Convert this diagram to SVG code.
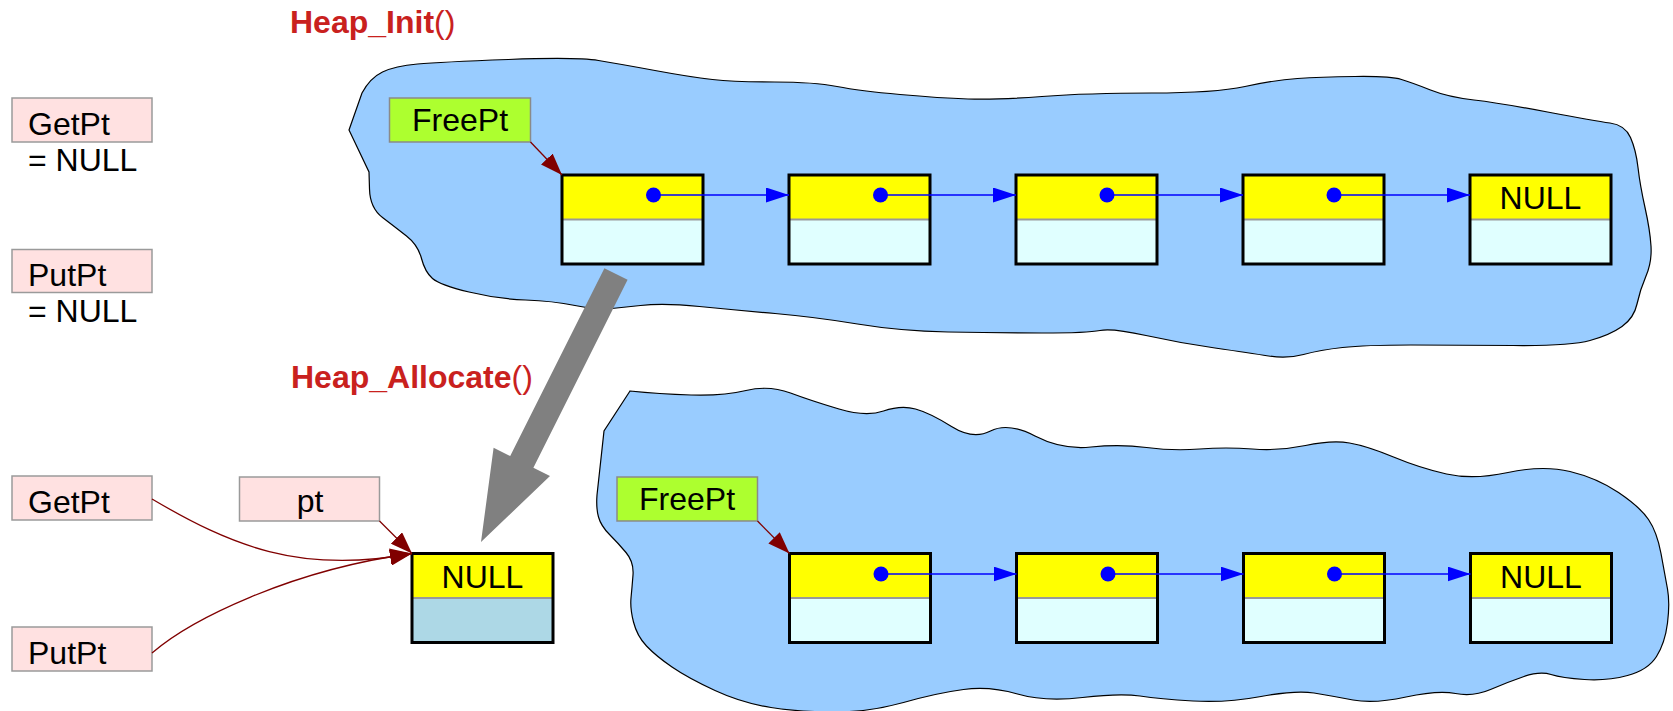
<svg xmlns="http://www.w3.org/2000/svg" width="1673" height="711" viewBox="0 0 1673 711">
<style>
text{font-family:"Liberation Sans",Arial,sans-serif;font-size:32px;fill:#000}
.title{font-size:32px;fill:#C9211E}
.title .b{font-weight:bold}
.c{text-anchor:middle}
.blob{fill:#99CCFF;stroke:#000;stroke-width:1.2}
.lbl{fill:#FFE1E1;stroke:#9a9a9a;stroke-width:1.5}
.fp{fill:#ADFF2F;stroke:#8a8a8a;stroke-width:1.5}
.top{fill:#FFFF00}
.bot{fill:#E0FFFF}
.bot2{fill:#ADD8E6}
.div{stroke:#999;stroke-width:2}
.frame{fill:none;stroke:#000;stroke-width:3}
.dot{fill:#0000FF}
.blue{stroke:#0000FF;stroke-width:1.5;fill:none;marker-end:url(#ab)}
.red{stroke:#800000;stroke-width:1.3;fill:none;marker-end:url(#ar)}
</style>
<defs>
<marker id="ab" markerUnits="userSpaceOnUse" markerWidth="23" markerHeight="15" refX="23" refY="7.5" orient="auto"><path d="M0,0 L23,7.5 L0,15 Z" fill="#0000FF"/></marker>
<marker id="ar" markerUnits="userSpaceOnUse" markerWidth="22" markerHeight="16" refX="22" refY="8" orient="auto"><path d="M0,0 L22,8 L0,16 Z" fill="#800000"/></marker>
</defs>

<g id="heap1">
<path class="blob" d="M 349,130 L 362,93 Q 370,78 382.5,72 Q 395,66 417.5,64 Q 440,62 508.5,59.5 Q 577,57 598.5,60.5 Q 620,64 655,70.5 Q 690,77 712.5,79.5 Q 735,82 774.5,82 Q 814,82 837,86.5 Q 860,91 900,94.5 Q 940,98 968,99 Q 996,100 1042,96.5 Q 1088,93 1151.5,93 Q 1215,93 1245,86.5 Q 1275,80 1297.5,78.5 Q 1320,77 1355,76.5 Q 1390,76 1401.5,79.5 Q 1413,83 1430.5,90 Q 1448,97 1474,100 Q 1500,103 1547.5,112 Q 1595,121 1610,123 Q 1625,125 1630.5,137.5 Q 1636,150 1638,167.5 Q 1640,185 1645,207.5 Q 1650,230 1651,246 Q 1652,262 1646,276 Q 1640,290 1637,304 Q 1634,318 1622,326.5 Q 1610,335 1590,340.5 Q 1570,346 1513.5,345.5 Q 1457,345 1411,345 Q 1365,345 1342.5,347.5 Q 1320,350 1303.5,354.5 Q 1287,359 1268.5,356 Q 1250,353 1215,348 Q 1180,343 1146,335.5 Q 1112,328 1100,330.5 Q 1088,333 1042,333 Q 996,333 948,332 Q 900,331 857.5,324 Q 815,317 775,313.5 Q 735,310 699.5,306.5 Q 664,303 640.5,305.5 Q 617,308 607,309 Q 597,310 575,305.5 Q 553,301 525.5,300 Q 498,299 469,292 Q 440,285 432.5,278.5 Q 425,272 421.5,258.5 Q 418,245 406.5,236 Q 395,227 382.5,217.5 Q 370,208 369.5,189 L 369,172 L 349,130 Z"/>
</g>
<g id="heap2">
<path class="blob" d="M 630,391 L 604,431 L 597,495 Q 596,508 598.5,517 Q 601,526 609.5,534.5 Q 618,543 626,552.5 Q 634,562 633,575 Q 632,588 631,598 Q 630,608 633.5,622 Q 637,636 646.5,646 Q 656,656 672,667 Q 688,678 715,690.5 Q 742,703 771,707.5 Q 800,712 835,712 Q 870,712 903.5,702.5 Q 937,693 963.5,689.5 Q 990,686 1017.5,694 Q 1045,702 1082.5,697.5 Q 1120,693 1140,696 Q 1160,699 1193,701 Q 1226,703 1261,696.5 Q 1296,690 1314,693 Q 1332,696 1353,700 Q 1374,704 1406,697 Q 1438,690 1455.5,693.5 Q 1473,697 1490.5,689.5 Q 1508,682 1524,676.5 Q 1540,671 1551,674.5 Q 1562,678 1584.5,679.5 Q 1607,681 1627.5,675.5 Q 1648,670 1656.5,656.5 Q 1665,643 1667.5,623 Q 1670,603 1667.5,589 Q 1665,575 1661,553.5 Q 1657,532 1648.5,519.5 Q 1640,507 1618.5,492.5 Q 1597,478 1570,471.5 Q 1543,465 1508,472.5 Q 1473,480 1446.5,474 Q 1420,468 1393.5,457 Q 1367,446 1349.5,443 Q 1332,440 1305.5,445.5 Q 1279,451 1252.5,449 Q 1226,447 1199.5,449 Q 1173,451 1146.5,447.5 Q 1120,444 1091,447 Q 1062,450 1035,436 Q 1008,422 990.5,431 Q 973,440 951.5,426.5 Q 930,413 915.5,409 Q 901,405 883.5,411 Q 866,417 839,409 Q 812,401 790.5,393 Q 769,385 746,390.5 Q 723,396 691,395 Q 659,394 630,391 Z"/>
</g>

<g id="title-init"><text class="title" x="290" y="33"><tspan class="b">Heap_Init</tspan>()</text></g>
<g id="title-alloc"><text class="title" x="291" y="388"><tspan class="b">Heap_Allocate</tspan>()</text></g>

<g id="getpt-top"><rect class="lbl" x="12" y="98" width="140" height="44"/><text x="28" y="135">GetPt</text><text x="28" y="171">= NULL</text></g>
<g id="putpt-top"><rect class="lbl" x="12" y="249.5" width="140" height="43"/><text x="28" y="286">PutPt</text><text x="28" y="321.5">= NULL</text></g>
<g id="getpt-bot"><rect class="lbl" x="12" y="476" width="140" height="44"/><text x="28" y="513">GetPt</text></g>
<g id="putpt-bot"><rect class="lbl" x="12" y="627" width="140" height="44"/><text x="28" y="664">PutPt</text></g>
<g id="pt"><rect class="lbl" x="239.5" y="477" width="140" height="44"/><text class="c" x="310" y="512">pt</text></g>

<g id="freept-top"><rect class="fp" x="389.5" y="98" width="141" height="44"/><text class="c" x="460" y="130.5">FreePt</text></g>
<g id="freept-bot"><rect class="fp" x="617" y="477" width="140.5" height="44"/><text class="c" x="687" y="510">FreePt</text></g>

<g id="t1"><rect class="top" x="562" y="175" width="141" height="44.5"/><rect class="bot" x="562" y="219.5" width="141" height="44.5"/><line class="div" x1="562" y1="219.5" x2="703" y2="219.5"/><rect class="frame" x="562" y="175" width="141" height="89"/><circle class="dot" cx="653.5" cy="195" r="7.5"/></g>
<g id="t2"><rect class="top" x="789" y="175" width="141" height="44.5"/><rect class="bot" x="789" y="219.5" width="141" height="44.5"/><line class="div" x1="789" y1="219.5" x2="930" y2="219.5"/><rect class="frame" x="789" y="175" width="141" height="89"/><circle class="dot" cx="880.5" cy="195" r="7.5"/></g>
<g id="t3"><rect class="top" x="1016" y="175" width="141" height="44.5"/><rect class="bot" x="1016" y="219.5" width="141" height="44.5"/><line class="div" x1="1016" y1="219.5" x2="1157" y2="219.5"/><rect class="frame" x="1016" y="175" width="141" height="89"/><circle class="dot" cx="1107" cy="195" r="7.5"/></g>
<g id="t4"><rect class="top" x="1243" y="175" width="141" height="44.5"/><rect class="bot" x="1243" y="219.5" width="141" height="44.5"/><line class="div" x1="1243" y1="219.5" x2="1384" y2="219.5"/><rect class="frame" x="1243" y="175" width="141" height="89"/><circle class="dot" cx="1334" cy="195" r="7.5"/></g>
<g id="t5"><rect class="top" x="1470" y="175" width="141" height="44.5"/><rect class="bot" x="1470" y="219.5" width="141" height="44.5"/><line class="div" x1="1470" y1="219.5" x2="1611" y2="219.5"/><rect class="frame" x="1470" y="175" width="141" height="89"/><text class="c" x="1540.5" y="209">NULL</text></g>

<g id="alloc"><rect class="top" x="412" y="553.5" width="141" height="44.5"/><rect class="bot2" x="412" y="598" width="141" height="44.5"/><line class="div" x1="412" y1="598" x2="553" y2="598"/><rect class="frame" x="412" y="553.5" width="141" height="89"/><text class="c" x="482.5" y="587.5">NULL</text></g>

<g id="b1"><rect class="top" x="789.5" y="553.5" width="141" height="44.5"/><rect class="bot" x="789.5" y="598" width="141" height="44.5"/><line class="div" x1="789.5" y1="598" x2="930.5" y2="598"/><rect class="frame" x="789.5" y="553.5" width="141" height="89"/><circle class="dot" cx="881" cy="574" r="7.5"/></g>
<g id="b2"><rect class="top" x="1016.5" y="553.5" width="141" height="44.5"/><rect class="bot" x="1016.5" y="598" width="141" height="44.5"/><line class="div" x1="1016.5" y1="598" x2="1157.5" y2="598"/><rect class="frame" x="1016.5" y="553.5" width="141" height="89"/><circle class="dot" cx="1108" cy="574" r="7.5"/></g>
<g id="b3"><rect class="top" x="1243.5" y="553.5" width="141" height="44.5"/><rect class="bot" x="1243.5" y="598" width="141" height="44.5"/><line class="div" x1="1243.5" y1="598" x2="1384.5" y2="598"/><rect class="frame" x="1243.5" y="553.5" width="141" height="89"/><circle class="dot" cx="1334.5" cy="574" r="7.5"/></g>
<g id="b4"><rect class="top" x="1470.5" y="553.5" width="141" height="44.5"/><rect class="bot" x="1470.5" y="598" width="141" height="44.5"/><line class="div" x1="1470.5" y1="598" x2="1611.5" y2="598"/><rect class="frame" x="1470.5" y="553.5" width="141" height="89"/><text class="c" x="1541" y="587.5">NULL</text></g>

<g id="connectors">
<path class="blue" d="M653.5,195 H789"/>
<path class="blue" d="M880.5,195 H1016"/>
<path class="blue" d="M1107,195 H1243"/>
<path class="blue" d="M1334,195 H1470"/>
<path class="blue" d="M881,574 H1016.5"/>
<path class="blue" d="M1108,574 H1243.5"/>
<path class="blue" d="M1334.5,574 H1470.5"/>
<path class="red" d="M530.5,142 L562,175"/>
<path class="red" d="M757.5,521 L789.5,553.5"/>
<path class="red" d="M379.5,521 L412,553.5"/>
<path class="red" d="M152,499 C230,545 300,575 412,553.5"/>
<path class="red" d="M152,653 C190,620 290,570 412,553.5"/>
<polygon id="alloc-arrow" fill="#808080" points="604.4,268.2 627.6,279.8 533.4,467.7 550,476.1 481,542 493.6,447.7 510.2,456.1"/>
</g>
</svg>
